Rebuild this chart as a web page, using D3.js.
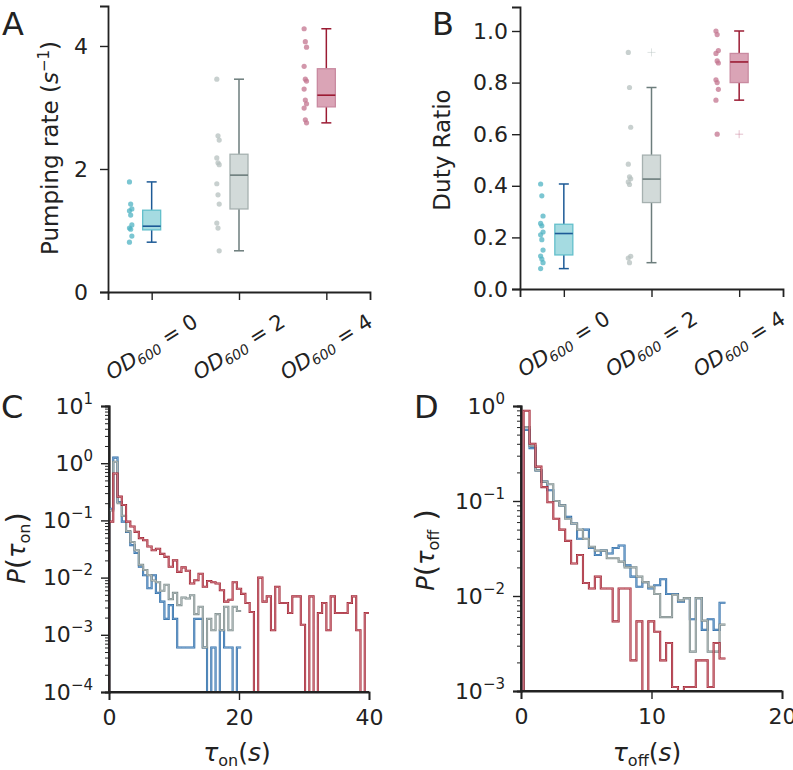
<!DOCTYPE html>
<html><head><meta charset="utf-8">
<script src="https://cdn.jsdelivr.net/npm/d3@7"></script>
<style>
body{margin:0;background:#fff}
svg{display:block}
text{font-family:"DejaVu Sans",sans-serif;fill:#222}
</style>
</head><body>
<svg id="fig" width="793" height="770"></svg>
<script>
// ---------------- DATA ----------------
const categories = ["0", "2", "4"];
// Panel A – pumping rate (s^-1), individual animals
const pumpOD0 = [1.79, 1.43, 1.35, 1.32, 1.25, 1.09, 1.04, 1.02, 0.91, 0.81];
const pumpOD2 = [3.46, 2.54, 2.47, 2.18, 2.10, 2.07, 1.76, 1.58, 1.43, 1.12, 1.04, 0.67];
const pumpOD4 = [4.28, 4.07, 3.98, 3.67, 3.46, 3.43, 3.30, 3.12, 3.06, 2.99, 2.80, 2.75];
// box statistics: [whisker low, Q1, median, Q3, whisker high]
const pumpBox0 = [0.81, 1.01, 1.07, 1.33, 1.79];
const pumpBox2 = [0.67, 1.35, 1.90, 2.24, 3.46];
const pumpBox4 = [2.75, 3.01, 3.20, 3.63, 4.28];
const pumpTicks = [0, 2, 4];
// Panel B – duty ratio
const dutyOD0 = [0.407, 0.361, 0.283, 0.254, 0.245, 0.221, 0.210, 0.191, 0.151, 0.128, 0.116, 0.102, 0.079];
const dutyOD2 = [0.917, 0.781, 0.627, 0.484, 0.435, 0.427, 0.415, 0.405, 0.127, 0.120, 0.102];
const dutyOD4 = [1.000, 0.986, 0.924, 0.913, 0.884, 0.876, 0.811, 0.800, 0.774, 0.732, 0.600];
const dutyBox0 = [0.079, 0.132, 0.215, 0.251, 0.407];
const dutyBox2 = [0.102, 0.335, 0.426, 0.519, 0.781];
const dutyBox4 = [0.732, 0.800, 0.880, 0.913, 1.000];
const dutyOut0 = [];
const dutyOut2 = [0.917];
const dutyOut4 = [0.600];
const dutyTicks = [0.0, 0.2, 0.4, 0.6, 0.8, 1.0];
// Panel C – P(tau_on) histograms, bins start at 0
const tauOnStart = 0;
const tauOnBin = 40 / 61;
const tauOnBlue = [0.16, 1.25, 0.21, 0.095, 0.063, 0.037, 0.027, 0.0155, 0.011, 0.0065, 0.011, 0.0054,
  0.0038, 0.0019, 0.0033, 0.0019, 0.0006, 0.0006, 0.0006, 0.0006, 0.0019, 0.0019, 0.0006, 0,
  0.0006, 0, 0.0012, 0.0006, 0.0006, 0, 0.0006];
const tauOnGray = [0.15, 1.06, 0.20, 0.12, 0.065, 0.042, 0.030, 0.0167, 0.0136, 0.011, 0.0089, 0.0083,
  0.0059, 0.0075, 0.0042, 0.0054, 0.0033, 0.0045, 0.0043, 0.0049, 0.0023, 0.0031, 0.0006, 0.0019,
  0.0012, 0.0023, 0.0012, 0.0031, 0.0012, 0.0031, 0.0026];
const tauOnRed = [0.095, 0.66, 0.26, 0.186, 0.095, 0.078, 0.063, 0.049, 0.045, 0.035, 0.030, 0.032,
  0.026, 0.023, 0.0155, 0.020, 0.0126, 0.0151, 0.0132, 0.0079, 0.0090, 0.0117, 0.0069, 0.0087,
  0.0083, 0.0079, 0.0060, 0.0038, 0.0041, 0.0083, 0.0064, 0.0052, 0.0036, 0.0025, 0, 0.010,
  0.0038, 0.0047, 0.0012, 0.0069, 0.0036, 0.0036, 0.0024, 0.0047, 0.0047, 0.0015, 0, 0.0047,
  0, 0.0024, 0.0036, 0.0012, 0.0047, 0.0024, 0.0024, 0.0024, 0.0036, 0.0047, 0.0012, 0, 0.0024];
// Panel D – P(tau_off) histograms
const tauOffStart = 0.2;
const tauOffBin = 0.455;
const tauOffBlue = [0.56, 0.36, 0.21, 0.16, 0.13, 0.10, 0.09, 0.068, 0.058, 0.040, 0.050, 0.032,
  0.027, 0.030, 0.028, 0.032, 0.034, 0.021, 0.016, 0.0125, 0.014, 0.012, 0.013, 0.015,
  0.0105, 0.0105, 0.0087, 0.0095, 0.0057, 0.0095, 0.0044, 0.0057, 0.0044, 0.0085];
const tauOffGray = [0.60, 0.38, 0.21, 0.16, 0.15, 0.10, 0.09, 0.065, 0.058, 0.050, 0.040, 0.033,
  0.030, 0.030, 0.025, 0.025, 0.023, 0.020, 0.020, 0.016, 0.014, 0.0125, 0.0105, 0.006,
  0.006, 0.0103, 0.009, 0.0095, 0.0026, 0.0095, 0.0055, 0.0026, 0.0026, 0.005];
const tauOffRed = [0.89, 0.40, 0.23, 0.14, 0.097, 0.065, 0.050, 0.038, 0.022, 0.027, 0.0137, 0.012,
  0.016, 0.012, 0.012, 0.0054, 0.012, 0.012, 0.0021, 0.0054, 0, 0.0054, 0.0042, 0.0021,
  0.0032, 0.0011, 0, 0.0011, 0.0011, 0.0021, 0.0021, 0.0011, 0.0032, 0.0022];
const onTicksX = [0, 20, 40];
const offTicksX = [0, 10, 20];
const onExps = [-4, -3, -2, -1, 0, 1];
const offExps = [-3, -2, -1, 0];

// ---------------- STYLE ----------------
const pal = [
  {pt: "#4fb3c3", fill: "#a5dbe1", edge: "#63bfcb", line: "#1d5a96"},
  {pt: "#b5c0bf", fill: "#d2dad9", edge: "#a6b1b0", line: "#6c7d7c"},
  {pt: "#c3748f", fill: "#daa4b6", edge: "#c98aa0", line: "#9b1b33"}
];
const histCol = [
  {dark: "#2b6aa6", light: "#a7c9e8"},
  {dark: "#7b8a8a", light: "#d4dada"},
  {dark: "#9e1f2e", light: "#efb0b8"}
];
const INK = "#222";
const TICKFS = 22;
const svg = d3.select("#fig");

function styleAxis(g) {
  g.select(".domain").attr("stroke", INK).attr("stroke-width", 1.8);
  g.selectAll(".tick line").attr("stroke", INK).attr("stroke-width", 1.4);
  g.selectAll(".tick text").attr("fill", INK).style("font-family", "DejaVu Sans");
}

// ---------------- BOX PANELS ----------------
function boxPanel(opt) {
  const x = d3.scalePoint().domain(categories).range([opt.x0, opt.x1]).padding(0.5);
  const y = d3.scaleLinear().domain(opt.ydom).range([opt.y0, opt.y1]);
  const g = svg.append("g");
  const ya = g.append("g").attr("transform", `translate(${opt.x0},0)`)
    .call(d3.axisLeft(y).tickValues(opt.ticks).tickSize(8).tickPadding(opt.pad).tickFormat(opt.fmt));
  styleAxis(ya);
  ya.selectAll(".tick text").attr("font-size", TICKFS);
  const xa = g.append("g").attr("transform", `translate(0,${opt.y0})`)
    .call(d3.axisBottom(x).tickSize(8).tickFormat(""));
  styleAxis(xa);
  categories.forEach(c => {
    const t = g.append("text")
      .attr("transform", `translate(${x(c)},${opt.y0 + 55}) rotate(-32)`)
      .attr("text-anchor", "middle").attr("dominant-baseline", "central")
      .attr("font-size", 21);
    t.append("tspan").attr("font-style", "italic").text("OD");
    t.append("tspan").attr("font-size", 14).attr("font-style", "italic").attr("dy", 5).text("600");
    t.append("tspan").attr("dy", -5).text(" = " + c);
  });
  opt.sets.forEach((s, i) => {
    const cx = x(categories[i]);
    const c = pal[i];
    const [lo, q1, md, q3, hi] = s.box;
    const bw = 9;
    g.append("line").attr("x1", cx).attr("x2", cx).attr("y1", y(hi)).attr("y2", y(q3))
      .attr("stroke", c.line).attr("stroke-width", 1.5);
    g.append("line").attr("x1", cx).attr("x2", cx).attr("y1", y(q1)).attr("y2", y(lo))
      .attr("stroke", c.line).attr("stroke-width", 1.5);
    [hi, lo].forEach(v => g.append("line").attr("x1", cx - 5).attr("x2", cx + 5)
      .attr("y1", y(v)).attr("y2", y(v)).attr("stroke", c.line).attr("stroke-width", 1.5));
    g.append("rect").attr("x", cx - bw).attr("width", 2 * bw)
      .attr("y", y(q3)).attr("height", y(q1) - y(q3))
      .attr("fill", c.fill).attr("stroke", c.edge).attr("stroke-width", 1.3);
    g.append("line").attr("x1", cx - bw).attr("x2", cx + bw).attr("y1", y(md)).attr("y2", y(md))
      .attr("stroke", c.line).attr("stroke-width", 1.6);
    (s.out || []).forEach(v => {
      g.append("path").attr("d", `M${cx - 4},${y(v)}H${cx + 4}M${cx},${y(v) - 4}V${y(v) + 4}`)
        .attr("stroke", c.pt).attr("stroke-opacity", 0.45).attr("stroke-width", 1);
    });
    g.selectAll(null).data(s.pts).join("circle")
      .attr("cx", (d, k) => cx - opt.ptOff + ((k % 3) - 1) * 1.2)
      .attr("cy", d => y(d)).attr("r", 2.6)
      .attr("fill", c.pt).attr("fill-opacity", 0.75);
  });
  svg.append("text").attr("x", opt.letterX).attr("y", 35).attr("font-size", 32).text(opt.letter);
  const yl = svg.append("text").attr("transform", `translate(${opt.labX},${opt.labY}) rotate(-90)`)
    .attr("text-anchor", "middle").attr("font-size", 23);
  opt.label(yl);
}

boxPanel({
  x0: 108, x1: 370, y0: 292, y1: 6, ydom: [0, 4.65], ticks: pumpTicks, pad: 12,
  fmt: d3.format("d"), ptOff: 21, letter: "A", letterX: 2, labX: 58, labY: 148,
  sets: [{pts: pumpOD0, box: pumpBox0}, {pts: pumpOD2, box: pumpBox2}, {pts: pumpOD4, box: pumpBox4}],
  label: t => {
    t.append("tspan").text("Pumping rate (");
    t.append("tspan").attr("font-style", "italic").text("s");
    t.append("tspan").attr("font-size", 15).attr("dy", -9).text("−1");
    t.append("tspan").attr("dy", 9).text(")");
  }
});
boxPanel({
  x0: 520, x1: 783, y0: 289, y1: 7, ydom: [0, 1.093], ticks: dutyTicks, pad: 4,
  fmt: d3.format(".1f"), ptOff: 22, letter: "B", letterX: 432, labX: 450, labY: 150,
  sets: [{pts: dutyOD0, box: dutyBox0, out: dutyOut0}, {pts: dutyOD2, box: dutyBox2, out: dutyOut2},
         {pts: dutyOD4, box: dutyBox4, out: dutyOut4}],
  label: t => t.text("Duty Ratio")
});

// ---------------- HISTOGRAM PANELS ----------------
function histPanel(opt) {
  const x = d3.scaleLinear().domain(opt.xdom).range([opt.x0, opt.x1]);
  const y = d3.scaleLog().domain(opt.ydom).range([opt.y0, opt.y1]);
  const g = svg.append("g");
  const majors = opt.exps.map(e => Math.pow(10, e));
  const minors = [];
  opt.exps.slice(0, -1).forEach(e => { for (let m = 2; m <= 9; m++) minors.push(m * Math.pow(10, e)); });
  const ym = g.append("g").attr("transform", `translate(${opt.x0},0)`)
    .call(d3.axisLeft(y).tickValues(minors).tickSize(4).tickFormat(""));
  styleAxis(ym);
  ym.selectAll(".tick line").attr("stroke-width", 1);
  const ya = g.append("g").attr("transform", `translate(${opt.x0},0)`)
    .call(d3.axisLeft(y).tickValues(majors).tickSize(8).tickPadding(8).tickFormat(""));
  styleAxis(ya);
  ya.selectAll(".tick text").each(function (d) {
    const t = d3.select(this).attr("font-size", TICKFS).attr("dy", "0.32em");
    const e = Math.round(Math.log10(d));
    t.append("tspan").text("10");
    t.append("tspan").attr("font-size", 15).attr("dy", -10).text(e < 0 ? "−" + (-e) : String(e));
  });
  const xa = g.append("g").attr("transform", `translate(0,${opt.y0})`)
    .call(d3.axisBottom(x).tickValues(opt.xticks).tickSize(8).tickPadding(9).tickFormat(d3.format("d")));
  styleAxis(xa);
  xa.selectAll(".tick text").attr("font-size", TICKFS);
  const clip = "clip" + opt.letter;
  svg.append("clipPath").attr("id", clip).append("rect")
    .attr("x", opt.x0).attr("y", opt.y1).attr("width", opt.x1 - opt.x0).attr("height", opt.y0 - opt.y1);
  const line = d3.line().x(d => x(d[0])).y(d => d[1] > 0 ? y(d[1]) : opt.y0);
  opt.series.forEach((vals, i) => {
    const pts = [[opt.start, 0]];
    vals.forEach((v, k) => {
      pts.push([opt.start + k * opt.bin, v]);
      pts.push([opt.start + (k + 1) * opt.bin, v]);
    });
    const d = line(pts);
    const hg = g.append("g").attr("clip-path", `url(#${clip})`);
    hg.append("path").attr("d", d).attr("fill", "none").attr("stroke", histCol[i].dark)
      .attr("stroke-width", 2.1);
    hg.append("path").attr("d", d).attr("fill", "none").attr("stroke", histCol[i].light)
      .attr("stroke-width", 0.6);
  });
  g.append("line").attr("x1", opt.x0).attr("x2", opt.x1).attr("y1", opt.y0).attr("y2", opt.y0)
    .attr("stroke", INK).attr("stroke-width", 1.8);
  g.append("line").attr("x1", opt.x0).attr("x2", opt.x0).attr("y1", opt.y0).attr("y2", opt.y1)
    .attr("stroke", INK).attr("stroke-width", 1.8);
  svg.append("text").attr("x", opt.letterX).attr("y", 418).attr("font-size", 32).text(opt.letter);
  const yl = svg.append("text").attr("transform", `translate(${opt.labX},${opt.labY}) rotate(-90)`)
    .attr("text-anchor", "middle").attr("font-size", 24);
  yl.append("tspan").attr("font-style", "italic").text("P");
  yl.append("tspan").attr("font-size", 29).attr("dy", 2).text("(");
  yl.append("tspan").attr("font-style", "italic").attr("dy", -2).text("τ");
  yl.append("tspan").attr("font-size", 16).attr("dy", 5).text(opt.sub);
  yl.append("tspan").attr("font-size", 29).attr("dy", -3).text(opt.gap + ")");
  const xl = svg.append("text").attr("x", opt.xlabX).attr("y", 761)
    .attr("text-anchor", "middle").attr("font-size", 25);
  xl.append("tspan").attr("font-style", "italic").text("τ");
  xl.append("tspan").attr("font-size", 16).attr("dy", 5).text(opt.sub);
  xl.append("tspan").attr("dy", -5).text("(");
  xl.append("tspan").attr("font-style", "italic").text("s");
  xl.append("tspan").text(")");
}

histPanel({
  letter: "C", letterX: 1, x0: 109, x1: 369, y0: 692, y1: 406, xdom: [0, 40], ydom: [1e-4, 1e1],
  exps: onExps, xticks: onTicksX, start: tauOnStart, bin: tauOnBin, gap: "",
  series: [tauOnBlue, tauOnGray, tauOnRed], sub: "on", labX: 25, labY: 548, xlabX: 237
});
histPanel({
  letter: "D", letterX: 414, x0: 521, x1: 782, y0: 691, y1: 406, xdom: [0, 20], ydom: [1e-3, 1],
  exps: offExps, xticks: offTicksX, start: tauOffStart, bin: tauOffBin, gap: " ",
  series: [tauOffBlue, tauOffGray, tauOffRed], sub: "off", labX: 434, labY: 550, xlabX: 647
});
</script>
</body></html>
